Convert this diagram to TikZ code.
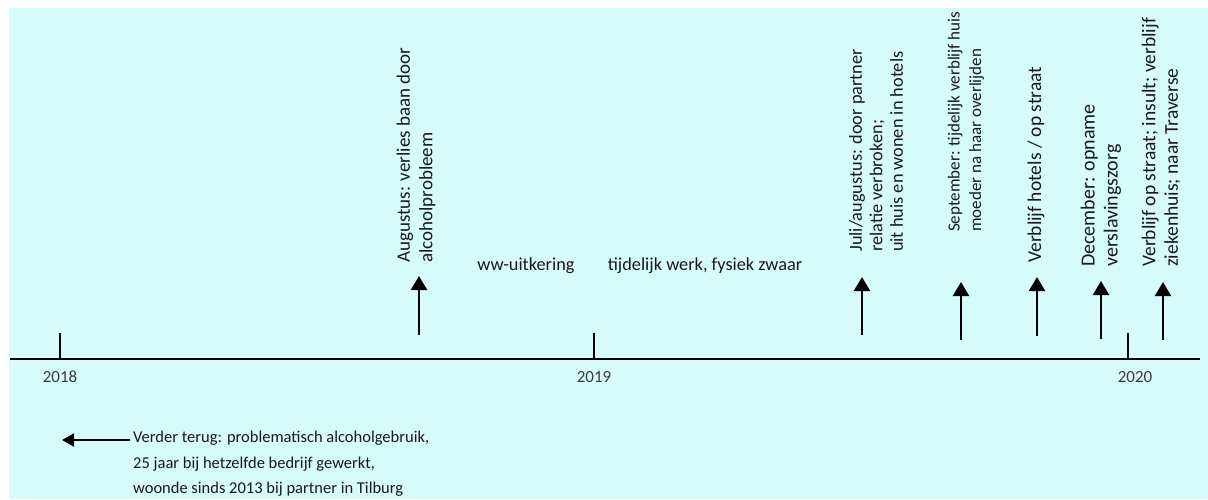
\documentclass[tikz,border=0pt]{standalone}
\usepackage{fontspec}
\setmainfont{Carlito}
\usetikzlibrary{arrows.meta}
\definecolor{bgc}{RGB}{214,252,250}
\definecolor{txt}{RGB}{25,25,25}
\begin{document}
\begin{tikzpicture}[x=1pt,y=-1pt,
  evarrow/.style={line width=2.3pt,-{Triangle[length=14pt,width=16pt]}},
  yeartick/.style={line width=2pt},
  axisline/.style={line width=2.6pt},
  lbl/.style={rotate=90,anchor=west,align=left,inner sep=0pt,font=\fontsize{19.5}{22.5}\selectfont,text=txt},
  plain/.style={inner sep=0pt,font=\fontsize{18.3}{20}\selectfont,text=txt},
  yr/.style={inner sep=0pt,font=\fontsize{17}{20}\selectfont,text=txt!85}]
\useasboundingbox (0,0) rectangle (1208,499);
\clip (0,0) rectangle (1208,499);
\fill[bgc] (9,8) rectangle (1208,499);

% axis
\coordinate (axL) at (10,359);
\coordinate (axR) at (1200,359);
\draw[axisline] (axL) -- (axR);

% year ticks
\coordinate (t18) at (60,359);   \coordinate (t18top) at (60,333);
\coordinate (t19) at (594,359);  \coordinate (t19top) at (594,333);
\coordinate (t20) at (1128,359); \coordinate (t20top) at (1128,333);
\draw[yeartick] (t18) -- (t18top);
\draw[yeartick] (t19) -- (t19top);
\draw[yeartick] (t20) -- (t20top);
\node[yr] (y18) at (60,377) {2018};
\node[yr] (y19) at (594,377) {2019};
\node[yr] (y20) at (1135,377) {2020};

% event labels
\node[lbl,font=\fontsize{19}{22.5}\selectfont] (aug) at (416,263) {Augustus: verlies baan door\\alcoholprobleem};
\node[lbl,font=\fontsize{18.3}{20.5}\selectfont] (juli) at (876,252) {Juli/augustus: door partner\\relatie verbroken;\\uit huis en wonen in hotels};
\node[lbl,font=\fontsize{17}{21.5}\selectfont] (sep) at (966,232) {September: tijdelijk verblijf huis\\moeder na haar overlijden};
\node[lbl] (hot) at (1036,263) {Verblijf hotels / op straat};
\node[lbl,font=\fontsize{20}{23}\selectfont] (dec) at (1101,267) {December: opname\\verslavingszorg};
\node[lbl] (last) at (1161,267) {Verblijf op straat; insult; verblijf\\ziekenhuis; naar Traverse};

% event arrows
\coordinate (aA) at (419,335); \coordinate (aB) at (419,276);
\coordinate (jA) at (862,335); \coordinate (jB) at (862,277);
\coordinate (sA) at (961,340); \coordinate (sB) at (961,282);
\coordinate (hA) at (1037,336); \coordinate (hB) at (1037,277);
\coordinate (dA) at (1101,339); \coordinate (dB) at (1101,281);
\coordinate (lA) at (1163,340); \coordinate (lB) at (1163,282);
\draw[evarrow] (aA) -- (aB);
\draw[evarrow] (jA) -- (jB);
\draw[evarrow] (sA) -- (sB);
\draw[evarrow] (hA) -- (hB);
\draw[evarrow] (dA) -- (dB);
\draw[evarrow] (lA) -- (lB);

% period labels
\node[plain] (ww) at (526,266) {ww-uitkering};
\node[plain] (werk) at (705,266) {tijdelijk werk, fysiek zwaar};

% earlier
\node[plain,anchor=north west,align=left,font=\fontsize{16.5}{25.5}\selectfont] (terug) at (133,431)
  {Verder terug: problematisch alcoholgebruik,\\25 jaar bij hetzelfde bedrijf gewerkt,\\woonde sinds 2013 bij partner in Tilburg};
\coordinate (tE) at (62,440);
\draw[line width=2pt,-{Triangle[length=12pt,width=13pt]}] (terug.west |- tE) ++(-3,0) -- (tE);
\end{tikzpicture}
\end{document}
